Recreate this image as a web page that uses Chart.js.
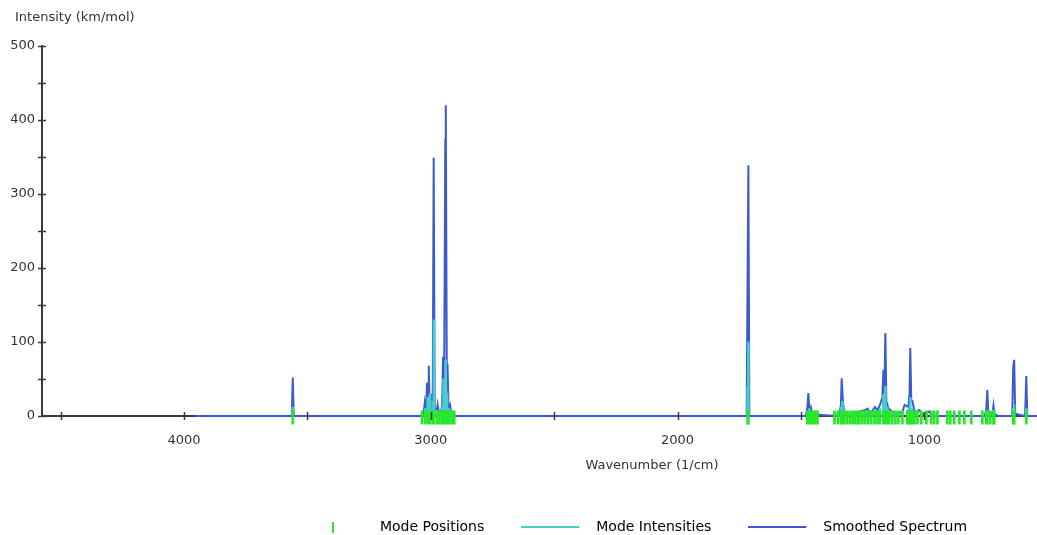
<!DOCTYPE html>
<html>
<head>
<meta charset="UTF-8">
<title>IR Spectrum</title>
<script src="https://cdn.jsdelivr.net/npm/chart.js@4/dist/chart.umd.min.js"></script>
<style>
  html, body { margin: 0; padding: 0; background: #fff; overflow: hidden; }
  #wrap { width: 1037px; height: 535px; overflow: hidden; }
</style>
</head>
<body>
<div id="wrap">
  <canvas id="canvas" width="1304" height="544"></canvas>
</div>

<script>
// mode wavenumbers (1/cm) and their intensities (km/mol)
var modeWn = [3559, 3035, 3022, 3012, 3003, 2992, 2987, 2975, 2965, 2955, 2948, 2940, 2934, 2925, 2915, 2905,
  1716, 1713, 1474, 1466, 1458, 1450, 1442, 1433, 1364, 1350, 1338, 1332, 1324, 1312, 1300, 1290, 1280, 1270,
  1263, 1251, 1239, 1227, 1215, 1202, 1190, 1180, 1166, 1158, 1150, 1142, 1130, 1117, 1105, 1089, 1069, 1062,
  1057, 1050, 1040, 1028, 1012, 992, 972, 960, 947, 907, 895, 879, 858, 838, 810, 765, 749, 745, 733, 720, 717,
  640, 636, 587];
var modeInt = [12, 4, 10, 25, 30, 20, 130, 8, 6, 12, 50, 75, 30, 10, 5, 3,
  40, 100, 6, 10, 5, 4, 3, 3, 4, 5, 12, 20, 8, 4, 3, 4, 3, 5,
  3, 4, 6, 3, 5, 8, 6, 10, 28, 40, 12, 5, 4, 3, 5, 6, 8, 12,
  25, 10, 5, 4, 3, 3, 4, 3, 3, 2, 2, 3, 2, 2, 2, 3, 5, 8, 3, 8, 4,
  10, 15, 10];

// smoothed spectrum
var specWn = [3955, 3563, 3559, 3555,
  3030, 3024, 3019, 3015, 3011, 3008, 3004, 2999, 2995, 2992, 2988, 2984, 2976, 2972, 2968,
  2954, 2950, 2946, 2941, 2939, 2935, 2932, 2928, 2922, 2916, 2905,
  1720, 1716, 1713, 1709,
  1480, 1474, 1470, 1466, 1460, 1455,
  1345, 1338, 1335, 1330, 1325, 1300, 1270, 1240, 1230, 1220, 1200, 1190, 1180, 1170,
  1166, 1162, 1158, 1154, 1145, 1120, 1090, 1080, 1065, 1060, 1057, 1053, 1048, 1040, 1020, 1010, 980, 970,
  755, 749, 745, 741, 724, 720, 716, 700,
  644, 640, 636, 632, 592, 587, 583, 400];
var specInt = [0, 0, 52, 0,
  0, 18, 3, 45, 5, 68, 8, 30, 10, 12, 349, 12, 6, 15, 5,
  10, 80, 20, 373, 420, 60, 70, 10, 15, 3, 0,
  0, 201, 339, 0,
  0, 12, 31, 8, 12, 2,
  0, 15, 51, 20, 5, 2, 5, 8, 10, 3, 12, 8, 15, 25,
  62, 30, 112, 20, 10, 3, 5, 15, 12, 30, 92, 20, 20, 5, 8, 2, 6, 0,
  0, 10, 35, 5, 3, 14, 3, 0,
  0, 66, 76, 3, 0, 54, 0, 0];

var xTicks = [4500, 4000, 3500, 3000, 2500, 2000, 1500, 1000, 500, 0];
var yTicks = [0, 50, 100, 150, 200, 250, 300, 350, 400, 450, 500];

var green = 'rgb(40,230,40)';
var cyan = 'rgb(70,205,205)';
var blue = 'rgb(60,90,205)';
var axisCol = '#3a3a3a';
var textCol = '#333';

// legend symbols: 68px wide boxes, symbol on the left part
function legendImg(col, vertical) {
  var c = document.createElement('canvas');
  c.width = 68; c.height = 12;
  var g = c.getContext('2d');
  g.fillStyle = col;
  if (vertical) g.fillRect(27, 1, 2, 11);
  else g.fillRect(0, 5, 58, 2);
  return c;
}

// y axis title sits horizontally above the axis
var yTitle = {
  id: 'yTitle',
  afterDraw: function(chart) {
    var ctx = chart.ctx;
    ctx.save();
    ctx.fillStyle = textCol;
    ctx.font = "13px 'DejaVu Sans', Verdana, sans-serif";
    ctx.textBaseline = 'middle';
    ctx.fillText('Intensity (km/mol)', 15, 18);
    ctx.restore();
  }
};

// tick marks that cross the axis lines
var crossTicks = {
  id: 'crossTicks',
  afterDraw: function(chart) {
    var ctx = chart.ctx, a = chart.chartArea;
    var xs = chart.scales.x, ys = chart.scales.y;
    ctx.save();
    ctx.strokeStyle = axisCol;
    ctx.lineWidth = 1.5;
    xs.ticks.forEach(function(t) {
      var px = Math.round(xs.getPixelForValue(t.value)) + 0.5;
      ctx.beginPath(); ctx.moveTo(px, a.bottom - 4); ctx.lineTo(px, a.bottom + 4); ctx.stroke();
    });
    ys.ticks.forEach(function(t) {
      var py = Math.round(ys.getPixelForValue(t.value)) + 0.5;
      ctx.beginPath(); ctx.moveTo(a.left - 4, py); ctx.lineTo(a.left + 4, py); ctx.stroke();
    });
    ctx.restore();
  }
};

Chart.defaults.font.family = "'DejaVu Sans', Verdana, sans-serif";
Chart.defaults.font.size = 13;
Chart.defaults.color = textCol;

new Chart(document.getElementById('canvas').getContext('2d'), {
  type: 'scatter',
  data: {
    datasets: [
      {
        type: 'bar',
        label: 'Mode Positions',
        data: modeWn.map(function(w) { return {x: w, y: [-11, 7]}; }),
        backgroundColor: green,
        barThickness: 2,
        grouped: false,
        clip: false
      },
      {
        type: 'bar',
        label: 'Mode Intensities',
        data: modeWn.map(function(w, i) { return {x: w, y: modeInt[i]}; }),
        backgroundColor: cyan,
        barThickness: 2,
        grouped: false,
        clip: false
      },
      {
        type: 'scatter',
        label: 'Smoothed Spectrum',
        data: specWn.map(function(w, i) { return {x: w, y: specInt[i]}; }),
        showLine: true,
        borderColor: blue,
        borderWidth: 2,
        pointRadius: 0,
        tension: 0,
        clip: false
      }
    ]
  },
  options: {
    responsive: false,
    animation: false,
    layout: { padding: { left: 10, right: 42, top: 46, bottom: 0 } },
    plugins: {
      tooltip: { enabled: false },
      title: { display: false },
      legend: {
        position: 'bottom',
        labels: {
          usePointStyle: true,
          pointStyleWidth: 68,
          padding: 37,
          color: textCol,
          font: { size: 14 },
          generateLabels: function(chart) {
            var cols = [green, cyan, blue];
            return chart.data.datasets.map(function(ds, i) {
              return {
                text: ds.label,
                fillStyle: cols[i],
                strokeStyle: cols[i],
                lineWidth: 0,
                pointStyle: legendImg(cols[i], i === 0),
                hidden: false,
                datasetIndex: i
              };
            });
          }
        }
      }
    },
    scales: {
      x: {
        type: 'linear',
        reverse: true,
        offset: false,
        min: -368,
        max: 4575,
        afterBuildTicks: function(scale) {
          scale.ticks = xTicks.map(function(v) { return {value: v}; });
        },
        ticks: {
          padding: 17,
          maxRotation: 0,
          autoSkip: false,
          color: textCol,
          callback: function(v) { return v % 1000 === 0 && v > 0 ? String(v) : ''; }
        },
        grid: { drawOnChartArea: false, drawTicks: false, offset: false },
        border: { display: true, color: axisCol, width: 2 },
        title: {
          display: true,
          text: 'Wavenumber (1/cm)',
          color: textCol,
          font: { size: 13 },
          padding: { top: -7.4, bottom: 9.2 }
        }
      },
      y: {
        min: 0,
        max: 500,
        afterBuildTicks: function(scale) {
          scale.ticks = yTicks.map(function(v) { return {value: v}; });
        },
        afterFit: function(scale) { scale.width = 32; },
        ticks: {
          padding: 7,
          autoSkip: false,
          color: textCol,
          callback: function(v) { return v % 100 === 0 ? String(v) : ''; }
        },
        grid: { drawOnChartArea: false, drawTicks: false },
        border: { display: true, color: axisCol, width: 2 }
      }
    }
  },
  plugins: [crossTicks, yTitle]
});
</script>
</body>
</html>
